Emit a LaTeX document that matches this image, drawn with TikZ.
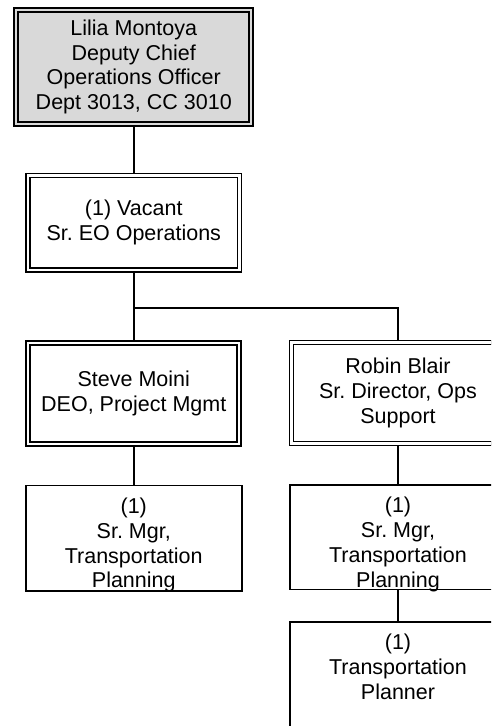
\documentclass[tikz,border=0pt]{standalone}
\usepackage{fontspec}
\setmainfont{Liberation Sans}
\frenchspacing
\usetikzlibrary{backgrounds}
\definecolor{headgray}{RGB}{217,217,217}

\begin{document}
\begin{tikzpicture}[x=1pt, y=-1pt, font=\fontsize{21.5}{24.8}\selectfont,
		post/.style={draw, fill=white, line width=1.7pt, align=center, inner sep=0pt},
		dblpost/.style={post, double, double distance=2.2pt, line width=1.7pt},
		toptext/.style={align=center, anchor=north, inner sep=0pt, yshift=-13pt},
		link/.style={line width=1.8pt}]
		\useasboundingbox (0,0) rectangle (491,726);
		\clip (0,0) rectangle (491,726);

		% head
		\node[dblpost, fill=headgray, double=headgray, line width=2pt, minimum width=235pt, minimum height=114pt] (lilia) at (133.75,67) {Lilia Montoya\\Deputy Chief\\Operations Officer\\Dept 3013, CC 3010};

		% level 2
		\node[dblpost, minimum width=211.5pt, minimum height=94.5pt] (vacant) at (133.75,222.75) {(1) Vacant\\Sr. EO Operations};

		% level 3
		\node[dblpost, minimum width=211pt, minimum height=100.5pt] (steve) at (133.75,393.5) {Steve Moini\\DEO, Project Mgmt};
		\node[dblpost, minimum width=213pt, minimum height=101pt] (robin) at (398,393) {Robin Blair\\Sr. Director, Ops\\Support};

		% level 4
		\node[post, minimum width=216pt, minimum height=105.5pt, label={[toptext]north:{(1)\\Sr. Mgr,\\Transportation\\Planning}}] (mgrA) at (133.75,538.3) {};
		\node[post, minimum width=216pt, minimum height=104.5pt, label={[toptext]north:{(1)\\Sr. Mgr,\\Transportation\\Planning}}] (mgrB) at (398,537.2) {};

		% level 5
		\node[post, minimum width=216pt, minimum height=110pt, label={[toptext]north:{(1)\\Transportation\\Planner}}] (planner) at (398,676.7) {};

		\begin{scope}[on background layer]
			\draw[link] (lilia) -- (vacant);
			\draw[link] (vacant) -- (steve);
			\draw[link] (vacant.south) -- ++(0,37.3) -| (robin.north);
			\draw[link] (steve) -- (mgrA);
			\draw[link] (robin) -- (mgrB);
			\draw[link] (mgrB) -- (planner);
		\end{scope}
	\end{tikzpicture}
\end{document}
